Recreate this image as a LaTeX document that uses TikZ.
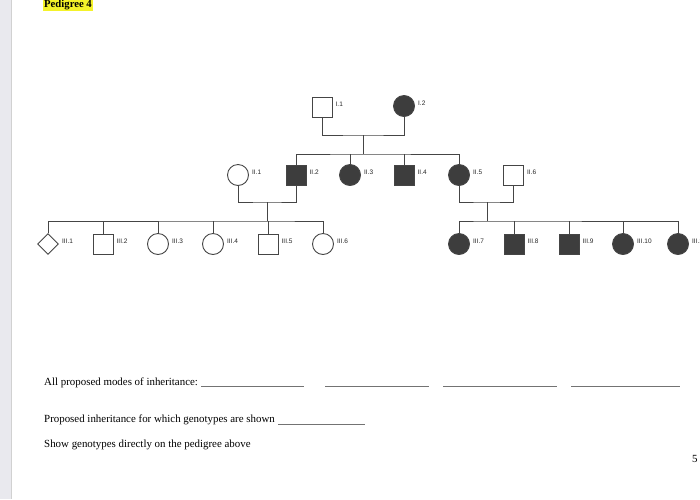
\documentclass[tikz,border=0pt]{standalone}
\usepackage{fontspec}
\setmainfont{Liberation Serif}
\newfontfamily\labfont{Liberation Sans}
\usetikzlibrary{shapes.geometric}
\definecolor{aff}{HTML}{3D3D3D}
\definecolor{ln}{HTML}{454545}
\definecolor{strip}{HTML}{E9E9EE}
\definecolor{hl}{HTML}{F4F22A}
\begin{document}
\begin{tikzpicture}[x=1pt,y=-1pt,
  person/.style={draw=ln, line width=0.9pt, inner sep=0pt, fill=white},
  male/.style={person, rectangle, minimum size=20pt},
  female/.style={person, circle, minimum size=21pt},
  unk/.style={person, diamond, minimum size=21pt},
  affected/.style={fill=aff},
  lbl/.style={font=\labfont\fontsize{6.5}{7}\selectfont, text=black!85, inner sep=0pt, label distance=3pt},
  link/.style={draw=ln, line width=0.9pt},
  bodytext/.style={font=\fontsize{10.9}{13}\selectfont, anchor=base west, inner sep=0pt},
  blank/.style={draw=black!55, line width=0.6pt}]
\useasboundingbox (0,0) rectangle (700,499);
\clip (0,0) rectangle (700,499);
\fill[strip] (0,0) rectangle (11,499);
\draw[black!18, line width=0.8pt] (11,0) -- (11,499);

% title
\node[font=\bfseries\fontsize{10.7}{12}\selectfont, fill=hl, anchor=base west, inner xsep=1pt, inner ysep=2pt] (title) at (43,7) {Pedigree 4};

% generation I
\node[male, label={[lbl, yshift=3pt]east:I.1}] (I1) at (322,107) {};
\node[female, affected, label={[lbl, yshift=3pt]east:I.2}] (I2) at (404,106) {};

% generation II
\node[female, label={[lbl, yshift=3pt]east:II.1}] (II1) at (238,175) {};
\node[male, affected, label={[lbl, yshift=3pt]east:II.2}] (II2) at (296,175) {};
\node[female, affected, label={[lbl, yshift=3pt]east:II.3}] (II3) at (350,175) {};
\node[male, affected, label={[lbl, yshift=3pt]east:II.4}] (II4) at (404,175) {};
\node[female, affected, label={[lbl, yshift=3pt]east:II.5}] (II5) at (459,175) {};
\node[male, label={[lbl, yshift=3pt]east:II.6}] (II6) at (513.5,175) {};

% generation III
\node[unk, label={[lbl, yshift=3pt]east:III.1}] (III1) at (48,244) {};
\node[male, label={[lbl, yshift=3pt]east:III.2}] (III2) at (103,244) {};
\node[female, label={[lbl, yshift=3pt]east:III.3}] (III3) at (158,244) {};
\node[female, label={[lbl, yshift=3pt]east:III.4}] (III4) at (213,244) {};
\node[male, label={[lbl, yshift=3pt]east:III.5}] (III5) at (268,244) {};
\node[female, label={[lbl, yshift=3pt]east:III.6}] (III6) at (323,244) {};
\node[female, affected, label={[lbl, yshift=3pt]east:III.7}] (III7) at (459,244) {};
\node[male, affected, label={[lbl, yshift=3pt]east:III.8}] (III8) at (514,244) {};
\node[male, affected, label={[lbl, yshift=3pt]east:III.9}] (III9) at (569,244) {};
\node[female, affected, label={[lbl, yshift=3pt]east:III.10}] (III10) at (623,244) {};
\node[female, affected, label={[lbl, yshift=3pt]east:III.11}] (III11) at (678,244) {};

% junction coordinates
\coordinate (m1) at (363,135);
\coordinate (s1) at (363,154);
\coordinate (m2) at (267,202);
\coordinate (s2) at (267,221);
\coordinate (m3) at (487,202);
\coordinate (s3) at (487,221);

% couple I
\draw[link] (I1.south) |- (m1) -| (I2.south);
\draw[link] (m1) -- (s1);
\draw[link] (II2.north) |- (s1) -| (II5.north);
\draw[link] (II3.north) -- (II3.north |- s1);
\draw[link] (II4.north) -- (II4.north |- s1);

% couple II.1 - II.2
\draw[link] (II1.south) |- (m2) -| (II2.south);
\draw[link] (m2) -- (s2);
\draw[link] (III1.north) |- (s2) -| (III6.north);
\foreach \c in {III2,III3,III4,III5}
  \draw[link] (\c.north) -- (\c.north |- s2);

% couple II.5 - II.6
\draw[link] (II5.south) |- (m3) -| (II6.south);
\draw[link] (m3) -- (s3);
\draw[link] (III7.north) |- (s3) -| (III11.north);
\foreach \c in {III8,III9,III10}
  \draw[link] (\c.north) -- (\c.north |- s3);

% questions
\node[bodytext] (q1) at (44,385.5) {All proposed modes of inheritance:};
\draw[blank] (201,386) -- (304,386);
\draw[blank] (325,386) -- (429,386);
\draw[blank] (443,386) -- (557,386);
\draw[blank] (571,386) -- (680,386);
\node[bodytext] (q2) at (44,422) {Proposed inheritance for which genotypes are shown};
\draw[blank] (278,424) -- (365,424);
\node[bodytext] (q3) at (44,447.5) {Show genotypes directly on the pedigree above};
\node[bodytext] (pg) at (692,462) {5};
\end{tikzpicture}
\end{document}
